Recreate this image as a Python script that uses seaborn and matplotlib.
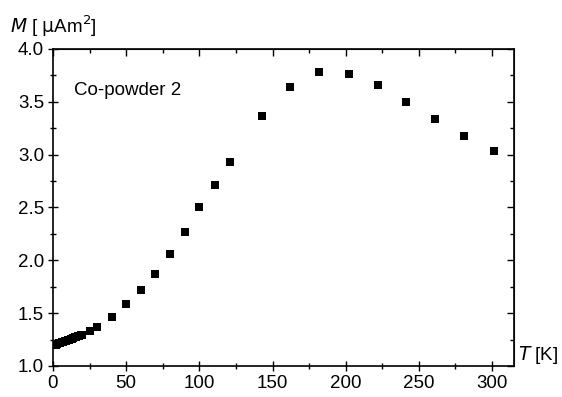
import matplotlib
matplotlib.use("Agg")
import matplotlib.pyplot as plt
from matplotlib.ticker import MultipleLocator, NullFormatter
import seaborn as sns
import pandas as pd

sns.set_style("ticks")
plt.rcParams['font.family'] = ['Liberation Sans', 'DejaVu Sans']
plt.rcParams['text.color'] = 'black'
plt.rcParams['axes.labelcolor'] = 'black'
plt.rcParams['xtick.color'] = 'black'
plt.rcParams['ytick.color'] = 'black'

T = [2, 3, 4, 5, 6, 7, 8, 9, 10, 11, 12, 13, 14, 15, 16, 17, 18, 19, 20,
     25, 30, 40, 50, 60, 70, 80, 90, 100, 111, 121, 143, 162, 182, 202,
     222, 241, 261, 281, 301]
M = [1.20, 1.21, 1.215, 1.22, 1.225, 1.23, 1.235, 1.24, 1.245, 1.25, 1.255,
     1.26, 1.265, 1.27, 1.275, 1.28, 1.285, 1.29, 1.295,
     1.33, 1.37, 1.46, 1.59, 1.72, 1.87, 2.06, 2.27, 2.50, 2.71, 2.93,
     3.37, 3.64, 3.78, 3.76, 3.66, 3.50, 3.34, 3.18, 3.03]

df = pd.DataFrame({"T": T, "M": M})

fig = plt.figure(figsize=(5.62, 3.97), dpi=100)
ax = fig.add_axes([0.0943, 0.0781, 0.8203, 0.7985])
sns.scatterplot(data=df, x="T", y="M", marker="s", s=30, color="black",
                edgecolor="black", linewidth=0, ax=ax, legend=False)

ax.set_xlim(0, 315)
ax.set_ylim(1.0, 4.0)
ax.xaxis.set_major_locator(MultipleLocator(50))
ax.xaxis.set_minor_locator(MultipleLocator(25))
ax.yaxis.set_major_locator(MultipleLocator(0.5))
ax.yaxis.set_minor_locator(MultipleLocator(0.25))
ax.set_yticks([1.0, 1.5, 2.0, 2.5, 3.0, 3.5, 4.0])
ax.set_yticklabels(["1.0", "1.5", "2.0", "2.5", "3.0", "3.5", "4.0"])
ax.tick_params(which="both", direction="inout", top=False, right=False,
               labelsize=13.5, width=1, colors="black", pad=3)
ax.tick_params(which="major", length=7)
ax.tick_params(which="minor", length=4)

# inward ticks on top and right
secx = ax.secondary_xaxis('top')
secx.xaxis.set_major_locator(MultipleLocator(50))
secx.xaxis.set_minor_locator(MultipleLocator(25))
secx.xaxis.set_major_formatter(NullFormatter())
secx.tick_params(which="both", direction="in", width=1, colors="black")
secx.tick_params(which="major", length=5)
secx.tick_params(which="minor", length=3)
secy = ax.secondary_yaxis('right')
secy.yaxis.set_major_locator(MultipleLocator(0.5))
secy.yaxis.set_minor_locator(MultipleLocator(0.25))
secy.yaxis.set_major_formatter(NullFormatter())
secy.tick_params(which="both", direction="in", width=1, colors="black")
secy.tick_params(which="major", length=5)
secy.tick_params(which="minor", length=3)

for s in ax.spines.values():
    s.set_linewidth(1.2)
    s.set_color("black")
ax.set_xlabel("")
ax.set_ylabel("")
fig.text(0.018, 0.935, r"$M$ [ $\mathrm{\mu}$Am$^2$]", fontsize=13.5,
         ha="left", va="center", color="black")
fig.text(0.922, 0.105, r"$T$ [K]", fontsize=13.5, ha="left", va="center",
         color="black")
ax.text(0.045, 0.87, "Co-powder 2", transform=ax.transAxes, fontsize=13.5,
        ha="left", va="center", color="black")

fig.savefig("out.png", dpi=100)
